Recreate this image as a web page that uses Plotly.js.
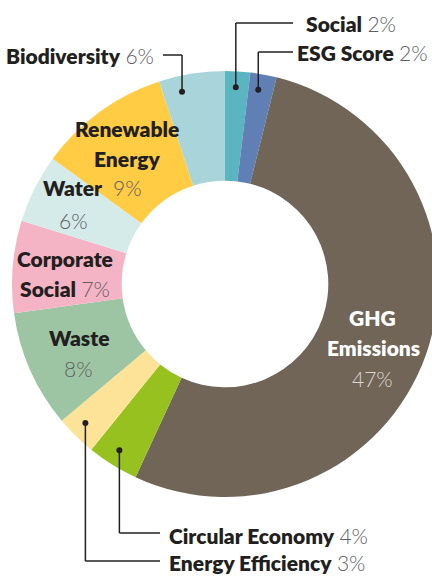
<!DOCTYPE html>
<html><head><meta charset="utf-8">
<script src="https://cdn.plot.ly/plotly-3.0.1.min.js"></script>
<style>html,body{margin:0;padding:0;overflow:hidden;background:#fff}#chart{width:450px;height:576px}</style>
</head><body><div id="chart"></div>
<script>
// ---- data ----
const categories = ["Social","ESG Score","GHG Emissions","Circular Economy","Energy Efficiency","Waste","Corporate Social","Water","Renewable Energy","Biodiversity"];
const values = [1.9, 2.0, 53.0, 3.9, 3.1, 8.9, 7.0, 5.2, 10.0, 5.0];
const pctLabels = ["2%","2%","47%","4%","3%","8%","7%","6%","9%","6%"];
const colors = ["#5bb5c0","#5f7fb5","#716558","#96c11f","#fde398","#9dc5a3","#f4b4c6","#d5ebe9","#ffcc44","#a9d5da"];

// ---- layout helpers (pixels -> paper) ----
const W = 450, H = 576;
const CX = 225, CY = 284, R = 213;
const px = x => x / W, py = y => 1 - y / H;
const FONT = "Lato, 'Noto Sans', sans-serif";
const DARK = "#231f20", GRAY = "#5f6064";
const FS = 21;

function lbl(name, pct, pctColor) {
  let s = name ? "<span style='font-weight:800'>" + name + "</span>" : "";
  if (pct) s += (name ? " " : "") + "<span style='font-weight:300;color:" + (pctColor || GRAY) + "'>" + pct + "</span>";
  return s;
}
const anns = [];
function ann(text, x, y, xa, color) {
  anns.push({text: text, x: px(x), y: py(y), xref: "paper", yref: "paper", xanchor: xa, yanchor: "middle",
             showarrow: false, font: {family: FONT, size: FS, color: color || DARK}});
}
const idx = n => categories.indexOf(n);

// inside labels
ann(lbl("Renewable"), 127, 128, "center");
ann(lbl("Energy"), 127, 158, "center");
ann(lbl("", pctLabels[idx("Renewable Energy")]), 127, 188, "center");
ann(lbl("Water"), 73, 188, "center");
ann(lbl("", pctLabels[idx("Water")]), 73, 220, "center");
ann(lbl("Corporate"), 65, 258, "center");
ann(lbl("Social", pctLabels[idx("Corporate Social")]), 65, 288, "center");
ann(lbl("Waste"), 79, 337, "center");
ann(lbl("", pctLabels[idx("Waste")]), 78, 368, "center");
ann(lbl("GHG"), 372, 317, "center", "#ffffff");
ann(lbl("Emissions"), 373, 347, "center", "#ffffff");
ann(lbl("", pctLabels[idx("GHG Emissions")], "#ddd8d0"), 372, 378, "center");

// callout labels
ann(lbl("Social", pctLabels[idx("Social")]), 304, 23, "left");
ann(lbl("ESG Score", pctLabels[idx("ESG Score")]), 430, 53, "right");
ann(lbl("Biodiversity", pctLabels[idx("Biodiversity")]), 156, 56, "right");
ann(lbl("Circular Economy", pctLabels[idx("Circular Economy")]), 167, 535, "left");
ann(lbl("Energy Efficiency", pctLabels[idx("Energy Efficiency")]), 167, 562, "left");

// leader lines from slice positions (derived from data)
const total = values.reduce((a, b) => a + b, 0);
function slicePoint(name, frac, rad) {
  const i = idx(name);
  let cum = 0;
  for (let k = 0; k < i; k++) cum += values[k];
  const a = (cum + values[i] * frac) / total * 2 * Math.PI;
  return [CX + rad * Math.sin(a), CY - rad * Math.cos(a)];
}
const shapes = [];
function callout(name, frac, yLine, xEnd) {
  const p = slicePoint(name, frac, 197);
  const ln = {color: DARK, width: 1.5};
  shapes.push({type: "line", xref: "paper", yref: "paper", x0: px(p[0]), y0: py(p[1]), x1: px(p[0]), y1: py(yLine), line: ln});
  shapes.push({type: "line", xref: "paper", yref: "paper", x0: px(p[0]), y0: py(yLine), x1: px(xEnd), y1: py(yLine), line: ln});
  const r = 3;
  shapes.push({type: "circle", xref: "paper", yref: "paper", x0: px(p[0] - r), x1: px(p[0] + r), y0: py(p[1] + r), y1: py(p[1] - r),
               fillcolor: DARK, line: {width: 0}});
}
callout("Social", 0.46, 23, 293);
callout("ESG Score", 0.4, 52, 293);
callout("Biodiversity", 0.3, 55, 163);
callout("Circular Economy", 0.54, 533, 160);
callout("Energy Efficiency", 0.56, 561, 160);

const trace = {
  type: "pie", labels: categories, values: values, sort: false, direction: "clockwise", rotation: 0,
  hole: 0.485, textinfo: "none", hoverinfo: "label+percent",
  marker: {colors: colors, line: {width: 0}},
  domain: {x: [0, 1], y: [py(CY + R), py(CY - R)]},
  showlegend: false
};
const layout = {
  width: W, height: H, margin: {l: 0, r: 0, t: 0, b: 0},
  paper_bgcolor: "#ffffff", showlegend: false,
  annotations: anns, shapes: shapes
};
Plotly.newPlot("chart", [trace], layout, {displayModeBar: false, staticPlot: true});
</script></body></html>
